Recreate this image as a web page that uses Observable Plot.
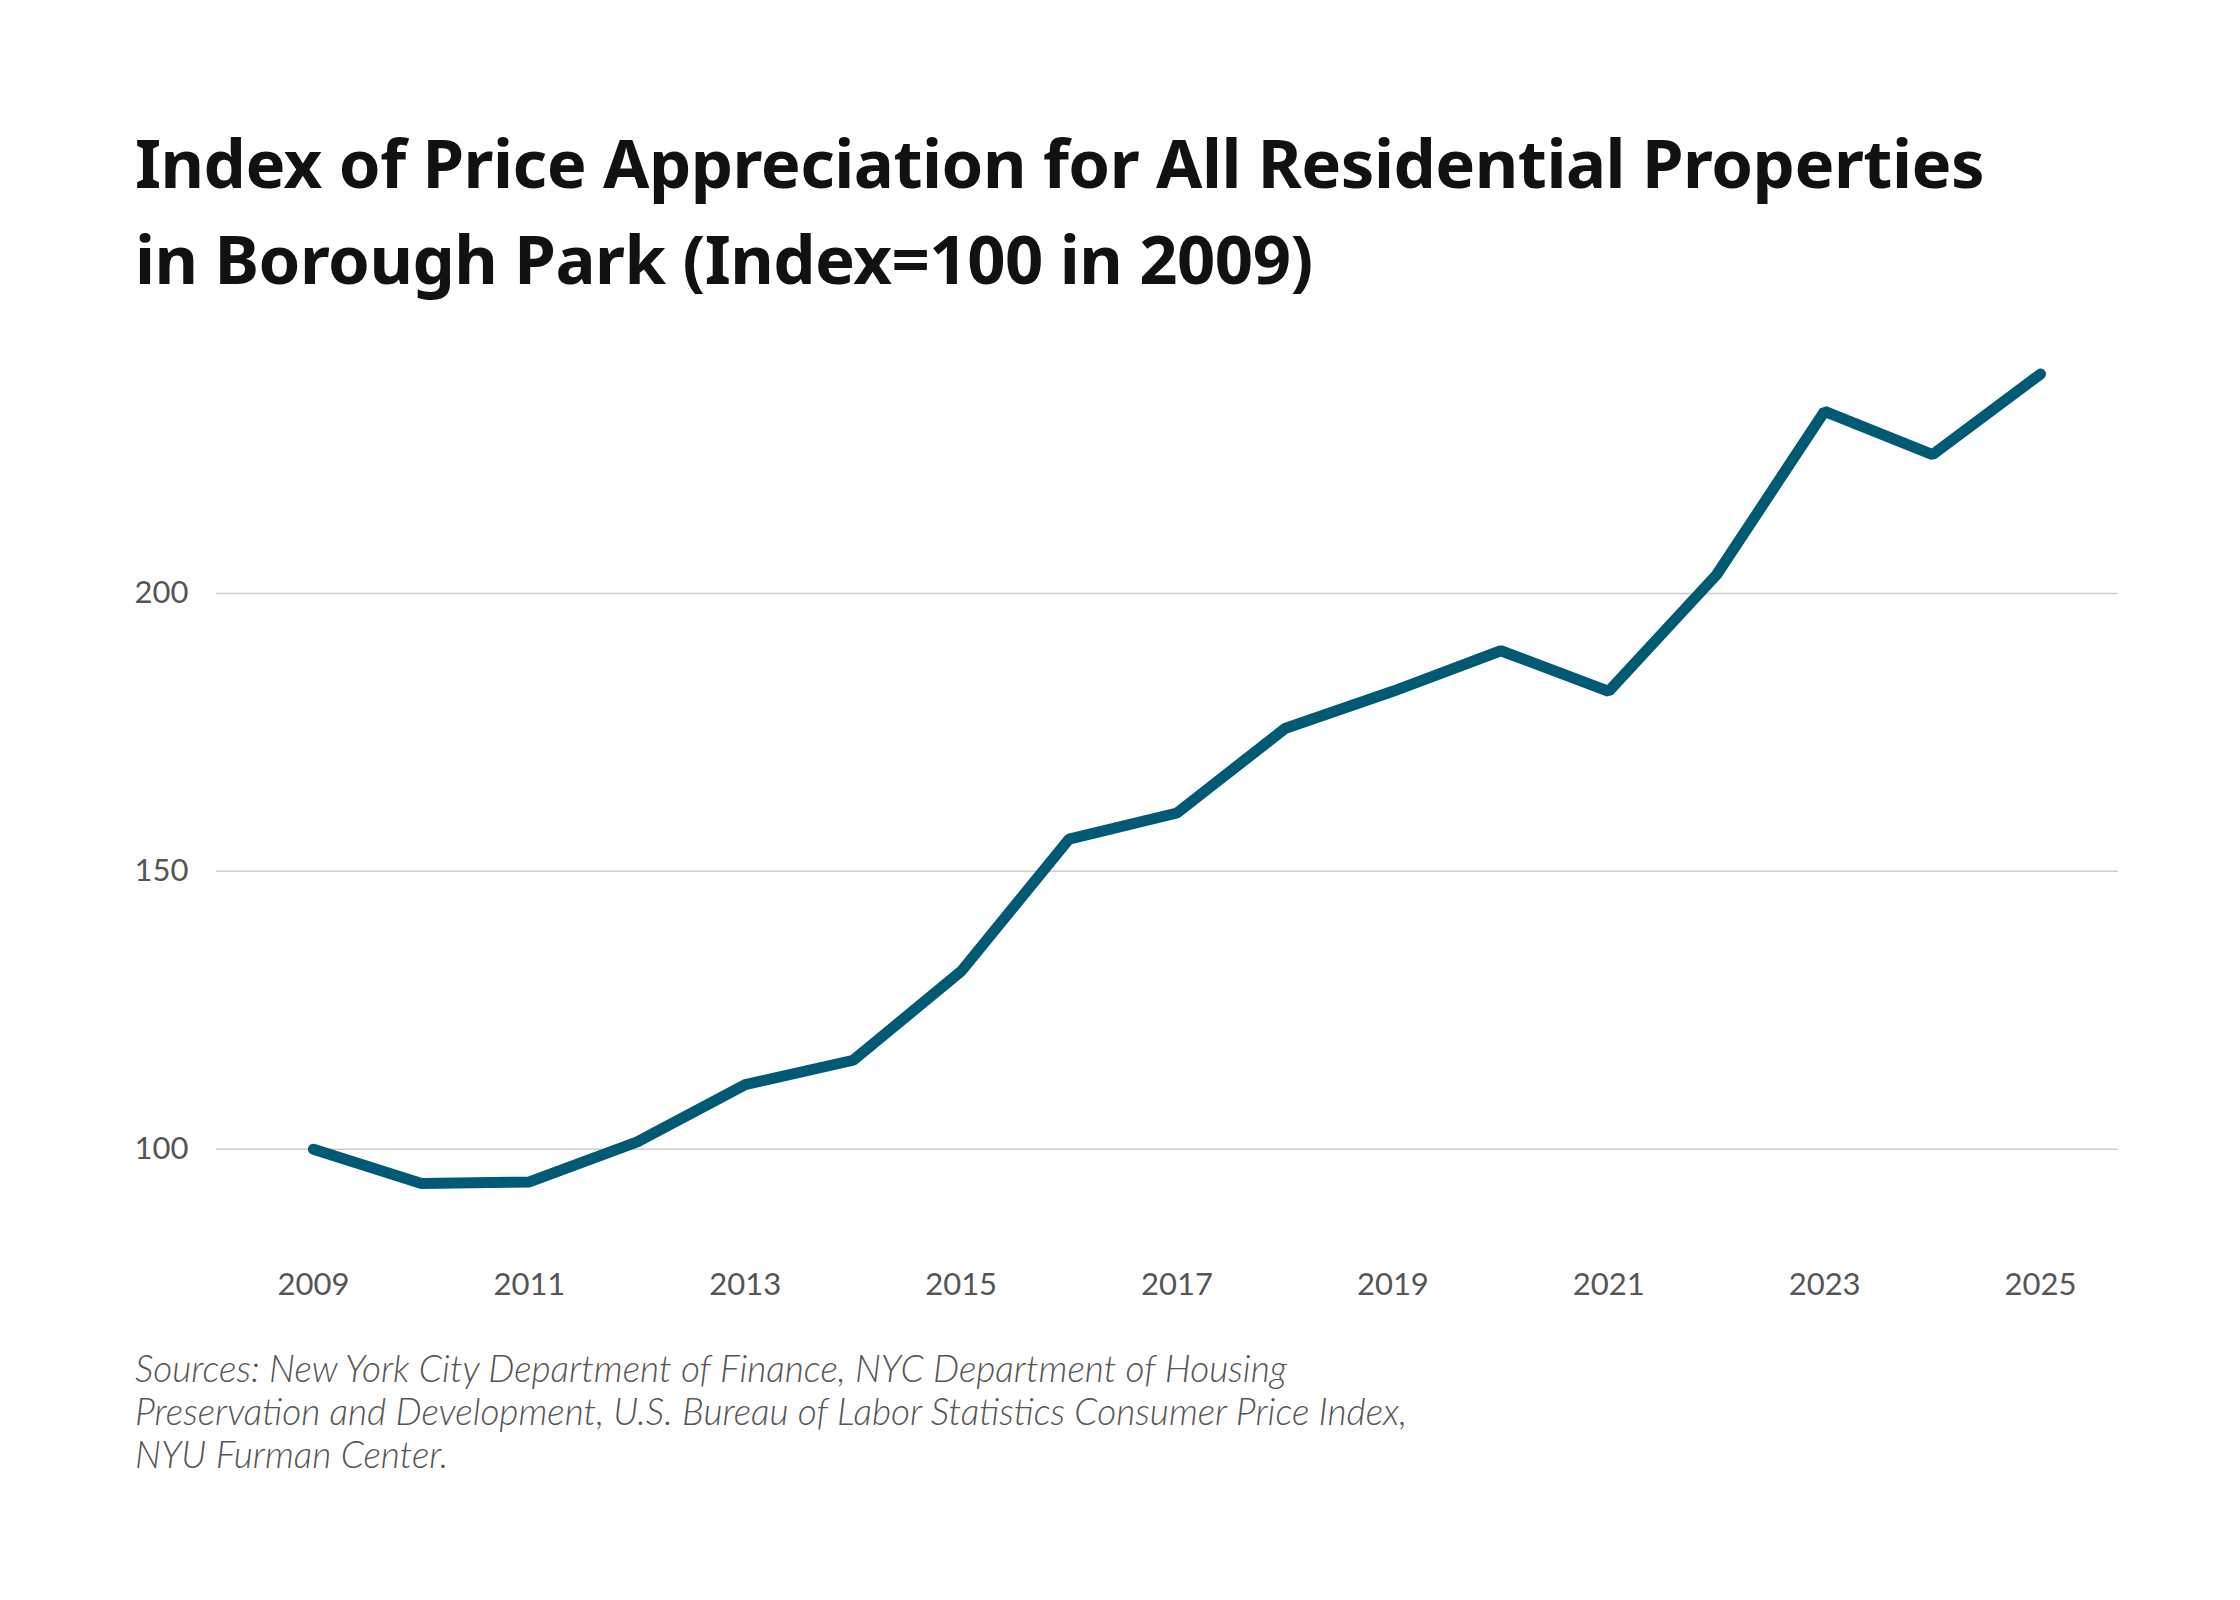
<!DOCTYPE html>
<html><head><meta charset="utf-8">
<script src="https://cdn.jsdelivr.net/npm/d3@7"></script>
<script src="https://cdn.jsdelivr.net/npm/@observablehq/plot@0.6"></script>
<style>
body{margin:0;background:#fff;font-family:Lato,sans-serif;width:2240px;height:1600px;position:relative;}
#title{position:absolute;left:135px;top:114px;font-size:67px;font-weight:700;line-height:96px;color:#111;font-family:"Noto Sans",sans-serif;letter-spacing:-0.5px;}
#chart{position:absolute;left:0;top:313px;}
#cap{position:absolute;left:135px;top:1346px;font-size:37px;font-style:italic;font-weight:300;color:#555;line-height:43px;width:1330px;}
</style></head><body>
<div id="title">Index of Price Appreciation for All Residential Properties<br>in Borough Park (Index=100 in 2009)</div>
<div id="chart"></div>
<div id="cap">Sources: New York City Department of Finance, NYC Department of Housing Preservation and Development, U.S. Bureau of Labor Statistics Consumer Price Index, NYU Furman Center.</div>
<script>
const years=[2009,2010,2011,2012,2013,2014,2015,2016,2017,2018,2019,2020,2021,2022,2023,2024,2025];
const values=[100,93.8,94.1,101.3,111.6,116,132,155.8,160.5,175.7,182.4,189.7,182.4,203.4,232.8,225,239.5];
const yTicks=[100,150,200];
const xTicks=[2009,2011,2013,2015,2017,2019,2021,2023,2025];
const data=years.map((y,i)=>({year:y,value:values[i]}));
const plot=Plot.plot({
  width:2240,height:1000,marginLeft:313,marginRight:200,marginTop:30,marginBottom:81,
  style:{fontFamily:"Lato,sans-serif",fontSize:"31px",color:"#555",overflow:"visible"},
  x:{domain:[2009,2025]},
  y:{domain:[85,245]},
  marks:[
    Plot.ruleY(yTicks,{x1:2008.1,x2:2025.72,stroke:"#ccc",strokeWidth:1.5,clip:false}),
    Plot.axisY({ticks:yTicks,tickSize:0,tickPadding:109,textAnchor:"start",dx:-70,label:null,fill:"#555"}),
    Plot.axisX({ticks:xTicks,tickSize:0,tickPadding:40,tickFormat:d=>String(d),label:null,fill:"#555"}),
    Plot.line(data,{x:"year",y:"value",stroke:"#005a74",strokeWidth:11,strokeLinejoin:"miter"})
  ]
});
document.getElementById("chart").appendChild(plot);
</script></body></html>
